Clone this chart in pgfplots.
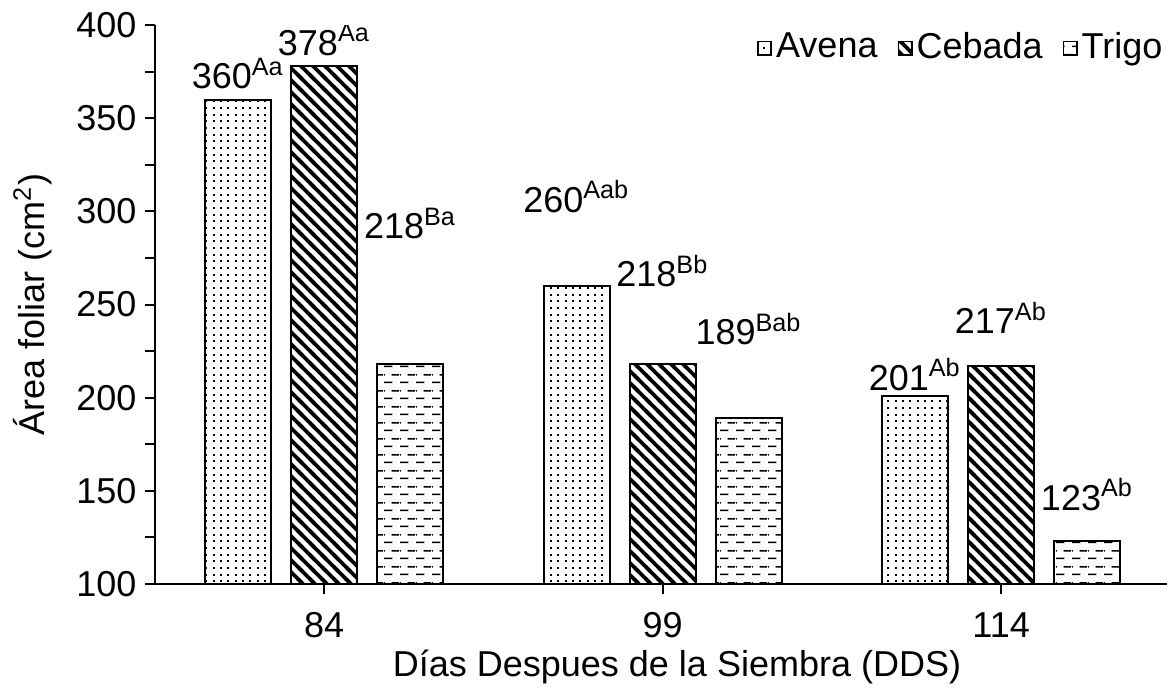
\documentclass[border=0pt]{standalone}
\usepackage{fontspec}
\setmainfont{Liberation Sans}
\usepackage{pgfplots}
\pgfplotsset{compat=1.18}
\usetikzlibrary{patterns}

\pgfdeclarepatternformonly{avdots}{\pgfqpoint{-0.1pt}{-0.1pt}}{\pgfqpoint{0.7pt}{0.7pt}}{\pgfqpoint{2.2pt}{2.0pt}}{%
  \pgfpathrectangle{\pgfqpoint{0pt}{0pt}}{\pgfqpoint{0.6pt}{0.6pt}}\pgfusepath{fill}}
\pgfdeclarepatternformonly{cbdiag}{\pgfqpoint{-1pt}{-1pt}}{\pgfqpoint{4.6pt}{4.6pt}}{\pgfqpoint{3.6pt}{3.6pt}}{%
  \pgfsetlinewidth{1.15pt}\pgfpathmoveto{\pgfqpoint{-1pt}{4.6pt}}\pgfpathlineto{\pgfqpoint{4.6pt}{-1pt}}\pgfusepath{stroke}}
\pgfdeclarepatternformonly{trdash}{\pgfqpoint{0pt}{0pt}}{\pgfqpoint{4.8pt}{4.8pt}}{\pgfqpoint{4.8pt}{4.8pt}}{%
  \pgfpathrectangle{\pgfqpoint{0pt}{0.9pt}}{\pgfqpoint{2.7pt}{0.45pt}}%
  \pgfpathrectangle{\pgfqpoint{2.4pt}{3.3pt}}{\pgfqpoint{2.4pt}{0.45pt}}%
  \pgfpathrectangle{\pgfqpoint{0pt}{3.3pt}}{\pgfqpoint{0.3pt}{0.45pt}}%
  \pgfusepath{fill}}

\begin{document}
\fontsize{10.8}{13}\selectfont
\begin{tikzpicture}
\begin{axis}[
  scale only axis, width=303.6pt, height=167.7pt,
  ybar=6pt, bar width=19.8pt,
  xmin=-0.5, xmax=2.49, ymin=100, ymax=400,
  xtick={0,1,2}, xticklabels={84,99,114},
  ytick={100,150,...,400}, minor ytick={125,175,...,375},
  axis x line*=bottom, axis y line*=left,
  tick align=outside, major tick length=3pt, minor tick length=3pt,
  tick style={black, line width=0.6pt},
  axis line style={line width=0.6pt},
  /pgf/number format/assume math mode=true,
  xticklabel style={yshift=-1.8pt},
  yticklabel style={xshift=1.2pt},
  xlabel={Días Despues de la Siembra (DDS)},
  ylabel={Área foliar (cm\textsuperscript{2})},
  xlabel style={xshift=4.8pt, yshift=4pt},
  every axis plot post/.append style={legend image code/.code={\draw[#1,line width=0.5pt] (0pt,-2pt) rectangle (4pt,2pt);}},
  legend style={draw=none, fill=none, at={(1,0.995)}, anchor=north east, inner sep=0pt,
    nodes={inner sep=1.2pt}, /tikz/every even column/.append style={column sep=4.8pt}},
  legend columns=3, legend cell align=left,
]
\addplot[draw=black, line width=0.6pt, pattern=avdots] coordinates {(0,360) (1,260) (2,201)};
\addplot[draw=black, line width=0.6pt, pattern=cbdiag] coordinates {(0,378) (1,218) (2,217)};
\addplot[draw=black, line width=0.6pt, pattern=trdash] coordinates {(0,218) (1,189) (2,123)};
\legend{Avena, Cebada, Trigo}
\node[anchor=base] at (axis cs:-0.2544,365.7) {360\textsuperscript{Aa}};
\node[anchor=base] at (axis cs:0,383.9) {378\textsuperscript{Aa}};
\node[anchor=base] at (axis cs:0.2544,285.2) {218\textsuperscript{Ba}};
\node[anchor=base] at (axis cs:0.7456,299.6) {260\textsuperscript{Aab}};
\node[anchor=base] at (axis cs:1,259.4) {218\textsuperscript{Bb}};
\node[anchor=base] at (axis cs:1.2544,228.3) {189\textsuperscript{Bab}};
\node[anchor=base] at (axis cs:1.7456,204.1) {201\textsuperscript{Ab}};
\node[anchor=base] at (axis cs:2,234.2) {217\textsuperscript{Ab}};
\node[anchor=base] at (axis cs:2.2544,139.7) {123\textsuperscript{Ab}};
\coordinate (ll) at (rel axis cs:0,0);
\end{axis}
\pgfresetboundingbox
\path (ll) ++(-46.5pt,-31.5pt) rectangle ++(350.1pt,206.7pt);
\end{tikzpicture}
\end{document}
